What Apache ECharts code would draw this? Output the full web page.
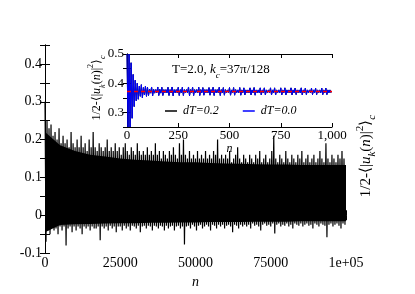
<!DOCTYPE html>
<html><head><meta charset="utf-8">
<script src="https://cdn.jsdelivr.net/npm/echarts@6/dist/echarts.min.js"></script>
<style>html,body{margin:0;padding:0;background:#fff}#c{width:415px;height:294px}</style>
</head><body><div id="c"></div>
<script>
// ---- main panel: upper / lower peak values per bin of n (0 .. 1e5) ----
const mainRange = [0, 100000];
const mainHi = [
0.30,0.25,0.23,0.24,0.21,0.22,0.20,0.23,0.19,0.21,
0.19,0.20,0.18,0.22,0.19,0.18,0.20,0.18,0.21,0.18,
0.19,0.17,0.20,0.18,0.22,0.18,0.17,0.19,0.18,0.17,
0.18,0.20,0.17,0.18,0.17,0.19,0.17,0.18,0.16,0.18,
0.19,0.17,0.16,0.18,0.17,0.16,0.19,0.17,0.16,0.17,
0.16,0.18,0.16,0.17,0.16,0.19,0.16,0.17,0.15,0.17,
0.16,0.15,0.17,0.16,0.18,0.16,0.15,0.19,0.16,0.20,
0.16,0.15,0.17,0.15,0.16,0.15,0.17,0.15,0.16,0.15,
0.17,0.15,0.16,0.15,0.17,0.16,0.20,0.15,0.16,0.15,
0.16,0.15,0.17,0.14,0.15,0.16,0.18,0.15,0.14,0.16,
0.15,0.14,0.16,0.15,0.14,0.16,0.15,0.17,0.14,0.15,
0.16,0.14,0.15,0.17,0.21,0.15,0.14,0.16,0.15,0.14,
0.17,0.15,0.14,0.16,0.15,0.14,0.16,0.15,0.17,0.14,
0.15,0.16,0.14,0.15,0.16,0.14,0.15,0.17,0.15,0.14,
0.19,0.15,0.14,0.16,0.15,0.14,0.16,0.15,0.17,0.15];
const mainLo = [
-0.07,-0.04,-0.05,-0.03,-0.04,-0.035,-0.05,-0.03,-0.04,-0.03,
-0.08,-0.035,-0.03,-0.045,-0.03,-0.04,-0.03,-0.035,-0.05,-0.03,
-0.035,-0.03,-0.04,-0.03,-0.035,-0.035,-0.03,-0.066,-0.03,-0.035,
-0.03,-0.04,-0.028,-0.035,-0.03,-0.045,-0.03,-0.03,-0.04,-0.028,
-0.035,-0.03,-0.04,-0.028,-0.03,-0.035,-0.028,-0.045,-0.03,-0.028,
-0.035,-0.028,-0.03,-0.04,-0.028,-0.03,-0.035,-0.028,-0.03,-0.04,
-0.028,-0.035,-0.03,-0.028,-0.04,-0.03,-0.028,-0.035,-0.03,-0.077,
-0.03,-0.028,-0.035,-0.025,-0.03,-0.04,-0.028,-0.025,-0.035,-0.03,
-0.025,-0.03,-0.04,-0.025,-0.028,-0.035,-0.025,-0.03,-0.025,-0.035,
-0.028,-0.025,-0.03,-0.045,-0.025,-0.028,-0.035,-0.025,-0.03,-0.025,
-0.03,-0.025,-0.035,-0.022,-0.028,-0.025,-0.03,-0.04,-0.025,-0.022,
-0.028,-0.025,-0.03,-0.022,-0.048,-0.025,-0.022,-0.03,-0.025,-0.028,
-0.022,-0.03,-0.025,-0.035,-0.022,-0.025,-0.028,-0.022,-0.03,-0.025,
-0.022,-0.028,-0.025,-0.035,-0.022,-0.025,-0.03,-0.022,-0.025,-0.028,
-0.058,-0.025,-0.022,-0.03,-0.025,-0.022,-0.028,-0.035,-0.022,-0.025];
// solid core of the band (every 5000 in n, 0 .. 1e5)
const coreHi = [0.22,0.185,0.17,0.16,0.155,0.15,0.147,0.145,0.142,0.14,0.14,
                0.138,0.137,0.136,0.135,0.134,0.134,0.133,0.133,0.133,0.133];
const coreLo = [-0.045,-0.026,-0.024,-0.023,-0.022,-0.021,-0.021,-0.02,-0.02,-0.019,-0.019,
                -0.018,-0.018,-0.018,-0.017,-0.017,-0.017,-0.016,-0.016,-0.016,-0.016];
const mainXTicks = ['0','25000','50000','75000','1e+05'];

// ---- inset: upper / lower values per bin of 10 in n (0 .. 1000) ----
const insetRange = [0, 1000];
const insetHi = [
0.50,0.50,0.47,0.43,0.41,0.40,0.39,0.395,0.385,0.39,
0.386,0.379,0.387,0.379,0.378,0.387,0.379,0.386,0.378,0.378,
0.386,0.378,0.387,0.378,0.378,0.386,0.378,0.386,0.378,0.378,
0.387,0.378,0.386,0.378,0.378,0.386,0.378,0.385,0.378,0.378,
0.385,0.378,0.386,0.378,0.378,0.386,0.378,0.385,0.378,0.377,
0.385,0.377,0.385,0.378,0.377,0.385,0.377,0.384,0.377,0.377,
0.384,0.377,0.385,0.377,0.377,0.384,0.377,0.384,0.377,0.377,
0.384,0.377,0.384,0.377,0.377,0.384,0.377,0.384,0.377,0.377,
0.384,0.377,0.383,0.377,0.377,0.384,0.377,0.383,0.377,0.377,
0.383,0.377,0.383,0.377,0.377,0.383,0.377,0.383,0.377,0.377];
const insetLo = [
0.25,0.25,0.28,0.32,0.34,0.345,0.355,0.35,0.36,0.355,
0.358,0.366,0.357,0.366,0.367,0.358,0.366,0.358,0.367,0.367,
0.358,0.367,0.357,0.367,0.367,0.358,0.367,0.358,0.367,0.367,
0.357,0.367,0.358,0.367,0.367,0.358,0.367,0.359,0.367,0.367,
0.359,0.367,0.358,0.367,0.367,0.358,0.367,0.359,0.367,0.367,
0.359,0.367,0.359,0.367,0.367,0.359,0.367,0.360,0.367,0.367,
0.360,0.367,0.359,0.367,0.367,0.360,0.367,0.360,0.367,0.367,
0.360,0.367,0.360,0.367,0.367,0.360,0.367,0.360,0.367,0.367,
0.360,0.367,0.361,0.367,0.367,0.360,0.367,0.361,0.367,0.367,
0.361,0.367,0.361,0.367,0.367,0.361,0.367,0.361,0.367,0.367];
const insetMean = 0.372;
const legendNames = ['dT=0.2', 'dT=0.0'];
const seriesColors = ['#000000', '#0000ff'];

function zig(hi, lo, range) {
  const w = (range[1] - range[0]) / hi.length, out = [];
  for (let i = 0; i < hi.length; i++) {
    out.push([range[0] + i * w, hi[i]]);
    out.push([range[0] + (i + 0.5) * w, lo[i]]);
  }
  return out;
}
function pts(vals, range) {
  const w = (range[1] - range[0]) / (vals.length - 1);
  return vals.map((v, i) => [range[0] + i * w, v]);
}
const mainData = zig(mainHi, mainLo, mainRange);
const insetData = zig(insetHi, insetLo, insetRange);

const F = 'Liberation Serif';
const chart = echarts.init(document.getElementById('c'), null, {renderer: 'canvas'});
const tickStyle = {inside: true, length: 5, lineStyle: {color: '#000', width: 1}};
const lineAx = {lineStyle: {color: '#000', width: 1}};
const fmtTenth = v => { const r = Math.round(v * 100); return (r % 10 === 0) ? String(r / 100) : ''; };

const richLabel = (fs) => ({
  n: {fontFamily: F, fontSize: fs, lineHeight: fs + 8, color: '#000'},
  i: {fontFamily: F, fontSize: fs, fontStyle: 'italic', lineHeight: fs + 8, color: '#000'},
  s: {fontFamily: F, fontSize: Math.round(fs * 0.7), fontStyle: 'italic', lineHeight: Math.round(fs * 0.7), verticalAlign: 'bottom', color: '#000'},
  p: {fontFamily: F, fontSize: Math.round(fs * 0.7), lineHeight: Math.round(fs * 0.7), verticalAlign: 'top', color: '#000'}
});
const yName = '{n|1/2-⟨|}{i|u}{s|k}{n|(}{i|n}{n|)|}{p|2}{n|⟩}{s|c}';
const coreSeries = (vals) => ({type: 'line', xAxisIndex: 0, yAxisIndex: 0, data: pts(vals, mainRange), showSymbol: false, z: 2,
  lineStyle: {width: 0}, areaStyle: {color: '#000', opacity: 1}, silent: true});

chart.setOption({
  animation: false,
  backgroundColor: '#fff',
  grid: [
    {left: 45, top: 45, width: 301, height: 211, show: false},
    {left: 127, top: 54, width: 205, height: 73, show: true, backgroundColor: '#fff', borderWidth: 0, z: 5}
  ],
  xAxis: [
    {type: 'value', gridIndex: 0, min: mainRange[0], max: mainRange[1], interval: 25000, position: 'bottom',
     axisLine: lineAx, axisTick: tickStyle, splitLine: {show: false},
     axisLabel: {margin: 3, fontFamily: F, fontSize: 14, color: '#000', formatter: (v) => mainXTicks[Math.round(v / 25000)]},
     name: 'n', nameLocation: 'middle', nameGap: 19,
     nameTextStyle: {fontFamily: F, fontSize: 14, fontStyle: 'italic', color: '#000'}},
    {type: 'value', gridIndex: 0, min: mainRange[0], max: mainRange[1], interval: 25000, position: 'top',
     axisLine: lineAx, axisTick: tickStyle, axisLabel: {show: false}, splitLine: {show: false}},
    {type: 'value', gridIndex: 1, min: insetRange[0], max: insetRange[1], interval: 250, position: 'bottom', z: 6,
     axisLine: lineAx, axisTick: {inside: true, length: 4, lineStyle: {color: '#000'}}, splitLine: {show: false},
     axisLabel: {margin: 2, fontFamily: F, fontSize: 13, color: '#000'},
     name: 'n', nameLocation: 'middle', nameGap: 12,
     nameTextStyle: {fontFamily: F, fontSize: 12, fontStyle: 'italic', color: '#000'}},
    {type: 'value', gridIndex: 1, min: insetRange[0], max: insetRange[1], interval: 250, position: 'top', z: 6,
     axisLine: lineAx, axisTick: {inside: true, length: 4, lineStyle: {color: '#000'}}, axisLabel: {show: false}, splitLine: {show: false}}
  ],
  yAxis: [
    {type: 'value', gridIndex: 0, min: -0.1, max: 0.45, interval: 0.05, position: 'left',
     axisLine: lineAx, axisTick: tickStyle, splitLine: {show: false},
     axisLabel: {margin: 3, fontFamily: F, fontSize: 14, color: '#000', formatter: fmtTenth}},
    {type: 'value', gridIndex: 0, min: -0.1, max: 0.45, interval: 0.05, position: 'right',
     axisLine: lineAx, axisTick: tickStyle, axisLabel: {show: false}, splitLine: {show: false}},
    {type: 'value', gridIndex: 1, min: 0.25, max: 0.5, interval: 0.05, position: 'left', z: 6,
     axisLine: lineAx, axisTick: {inside: true, length: 4, lineStyle: {color: '#000'}}, splitLine: {show: false},
     axisLabel: {margin: 3, fontFamily: F, fontSize: 13, color: '#000', formatter: fmtTenth}},
    {type: 'value', gridIndex: 1, min: 0.25, max: 0.5, interval: 0.05, position: 'right', z: 6,
     axisLine: lineAx, axisTick: {inside: true, length: 4, lineStyle: {color: '#000'}}, axisLabel: {show: false}, splitLine: {show: false}}
  ],
  legend: {
    left: 160, top: 100, itemGap: 24, itemWidth: 12, itemHeight: 1.5, icon: 'rect', z: 12,
    textStyle: {fontFamily: F, fontSize: 12, fontStyle: 'italic', color: '#000', padding: [0, 0, 0, 1]},
    data: legendNames
  },
  series: [
    coreSeries(coreHi),
    coreSeries(coreLo),
    {type: 'line', name: 'main', xAxisIndex: 0, yAxisIndex: 0, data: mainData, showSymbol: false, z: 3,
     lineStyle: {color: '#000', width: 1.2, join: 'bevel'}, itemStyle: {color: '#000'}, silent: true},
    {type: 'line', name: legendNames[0], xAxisIndex: 2, yAxisIndex: 2, data: insetData, showSymbol: false, z: 7,
     lineStyle: {color: seriesColors[0], width: 1}, itemStyle: {color: seriesColors[0]}, silent: true},
    {type: 'line', name: legendNames[1], xAxisIndex: 2, yAxisIndex: 2, data: insetData, showSymbol: false, z: 8,
     lineStyle: {color: seriesColors[1], width: 1}, itemStyle: {color: seriesColors[1]}, silent: true},
    {type: 'line', name: 'mean', xAxisIndex: 2, yAxisIndex: 2, data: [[insetRange[0], insetMean], [insetRange[1], insetMean]],
     showSymbol: false, z: 9, lineStyle: {color: '#ff0000', width: 1.5, type: [4, 3]}, silent: true}
  ],
  graphic: [
    {type: 'text', x: 172, y: 70, z: 20,
     style: {text: '{n|T=2.0, }{i|k}{s|c}{n|=37π/128}', rich: richLabel(13), align: 'left', verticalAlign: 'middle'}},
    {type: 'text', x: 366, y: 156, rotation: Math.PI / 2, z: 20,
     style: {text: yName, rich: richLabel(15), align: 'center', verticalAlign: 'middle'}},
    {type: 'text', x: 97, y: 88, rotation: Math.PI / 2, z: 20,
     style: {text: yName, rich: richLabel(12), align: 'center', verticalAlign: 'middle'}}
  ]
});
</script></body></html>
